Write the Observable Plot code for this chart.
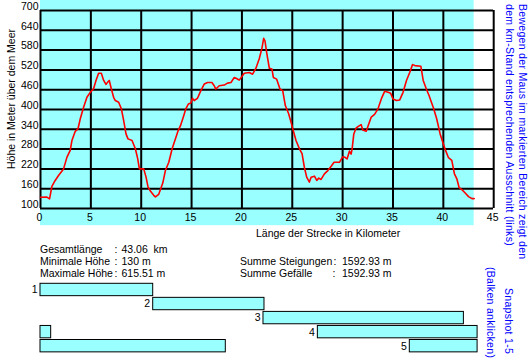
<!DOCTYPE html>
<html>
<head>
<meta charset="utf-8">
<script src="https://cdn.jsdelivr.net/npm/d3@7"></script>
<script src="https://cdn.jsdelivr.net/npm/@observablehq/plot@0.6"></script>
<style>
  html, body { margin: 0; padding: 0; background: #fff; overflow: hidden; }
  #wrap { position: relative; width: 530px; height: 358px; font-family: "Liberation Sans", Arial, sans-serif; font-size: 10.5px; color: #000; }
  #wrap svg { position: absolute; left: 0; }
  .t { position: absolute; white-space: pre; line-height: 13px; font-size: 10.5px; }
  .blue { color: #0000ff; writing-mode: vertical-rl; letter-spacing: 0.3px; }
</style>
</head>
<body>
<div id="wrap"></div>
<script>
// ---- data ----
const km = [0, 0.6, 0.9, 1.13, 1.46, 1.79, 2.29, 2.62, 2.95, 3.12, 3.45, 3.72, 3.95, 4.28, 4.61, 4.94, 5.27, 5.51, 5.77, 6.04,
  6.27, 6.5, 6.67, 6.83, 7.03, 7.26, 7.43, 7.76, 8.03, 8.26, 8.49, 8.69, 9.09, 9.42, 9.65, 9.82, 10.25, 10.48, 10.68, 10.91,
  11.24, 11.41, 11.74, 12.14, 12.4, 12.74, 13.07, 13.4, 13.67, 13.9, 14.23, 14.43, 14.69, 14.93, 15.09, 15.26, 15.59, 15.92, 16.26, 16.59,
  17.02, 17.25, 17.41, 17.75, 18.24, 18.57, 18.91, 19.24, 19.47, 19.73, 20.0, 20.23, 20.73, 21.06, 21.39, 21.72, 21.99, 22.16, 22.29, 22.45,
  22.72, 22.98, 23.12, 23.45, 23.78, 24.05, 24.31, 24.64, 24.88, 25.1, 25.37, 25.71, 25.97, 26.2, 26.43, 26.7, 26.87, 27.2, 27.43, 27.63,
  27.86, 28.19, 28.53, 28.86, 29.15, 29.68, 30.02, 30.24, 30.44, 30.68, 30.84, 30.94, 31.11, 31.34, 31.67, 31.84, 32.0, 32.34, 32.5, 32.84,
  33.17, 33.51, 33.84, 34.17, 34.51, 34.77, 35.0, 35.34, 35.67, 36.0, 36.34, 36.67, 36.94, 37.18, 37.77, 38.0, 38.34, 38.57, 39.01, 39.34,
  39.68, 40.01, 40.17, 40.51, 40.84, 41.1, 41.34, 41.57, 41.84, 42.17, 42.5, 42.84, 43.06];
const elev = [134, 135, 129, 167, 185, 200, 220, 255, 276, 306, 334, 341, 372, 407, 437, 452, 463, 488, 510, 510,
  488, 476, 483, 488, 463, 437, 427, 422, 402, 366, 326, 311, 306, 281, 251, 220, 220, 195, 165, 153,
  140, 135, 143, 177, 215, 240, 281, 311, 336, 351, 382, 402, 417, 420, 434, 427, 434, 457, 477, 482,
  482, 472, 462, 472, 474, 480, 482, 497, 494, 489, 500, 510, 512, 507, 525, 554, 586, 615.5, 608, 574,
  525, 523, 497, 492, 462, 457, 412, 387, 361, 336, 306, 281, 266, 225, 195, 180, 195, 198, 185, 192,
  188, 205, 215, 228, 240, 240, 257, 255, 250, 274, 265, 280, 326, 344, 351, 354, 338, 334, 348, 377,
  385, 402, 432, 455, 452, 449, 432, 427, 429, 452, 488, 513, 536, 533, 531, 488, 460, 443, 405, 372,
  326, 295, 280, 254, 246, 205, 190, 163, 157, 147, 136, 130, 130];

const xTicks = [0, 5, 10, 15, 20, 25, 30, 35, 40, 45];
const yTicks = [100, 160, 220, 280, 340, 400, 460, 520, 580, 640, 700];
const totalLength = 43.06;

const snapLabels = ["1", "2", "3", "4", "5"];
const snapStart = [0, 11.19, 22.14, 27.54, 36.67];
const snapEnd = [11.19, 22.24, 42.04, 43.4, 43.4];
const snapWrapEnd = [0, 0, 0, 1.06, 18.4];

const statsLeftLabels = ["Gesamtlänge", "Minimale Höhe", "Maximale Höhe"];
const statsLeftValues = ["43.06  km", "130 m", "615.51 m"];
const statsRightLabels = ["Summe Steigungen", "Summe Gefälle"];
const statsRightValues = ["1592.93 m", "1592.93 m"];

// ---- build ----
const profile = km.map((k, i) => ({km: k, elev: elev[i]}));
const snaps = snapLabels.map((l, i) => ({label: l, row: i, start: snapStart[i], end: snapEnd[i], wrapEnd: snapWrapEnd[i]}));
const wraps = snaps.filter(d => d.wrapEnd > 0);
const CYAN = "#99ffff";
const FONT = '"Liberation Sans", Arial, sans-serif';
const xRange = [40, 493.2];

const wrap = document.getElementById("wrap");

const chart = Plot.plot({
  width: 530, height: 240,
  marginLeft: 40, marginRight: 37, marginTop: 10, marginBottom: 32,
  x: {domain: [0, 45], range: xRange, axis: null},
  y: {domain: [100, 700], range: [208, 10], axis: null},
  style: {background: "transparent", fontFamily: FONT, fontSize: "10.5px", color: "#000", overflow: "visible"},
  marks: [
    Plot.rect([totalLength], {x1: 0, x2: d => d, y1: 48, y2: 732, fill: CYAN}),
    Plot.gridX(xTicks, {stroke: "#000", strokeOpacity: 1, strokeWidth: 2}),
    Plot.gridY(yTicks, {stroke: "#000", strokeOpacity: 1, strokeWidth: 2}),
    Plot.line(profile, {x: "km", y: "elev", stroke: "#ff0000", strokeWidth: 1.6}),
    Plot.axisX(xTicks, {tickSize: 0, tickPadding: 5, dx: -1, fontSize: 10.5, label: null}),
    Plot.axisY(yTicks, {tickSize: 0, tickPadding: 2, dy: -4, fontSize: 10.5, label: null})
  ]
});
chart.style.top = "0px";
wrap.appendChild(chart);

const bars = Plot.plot({
  width: 530, height: 78,
  x: {domain: [0, 45], range: xRange, axis: null},
  y: {domain: [0, 5], range: [3.3, 73.55], axis: null},
  style: {background: "transparent", fontFamily: FONT, fontSize: "10.5px", color: "#000", overflow: "visible"},
  marks: [
    Plot.rect(snaps, {x1: "start", x2: "end", y1: "row", y2: d => d.row + 0.88, fill: CYAN, stroke: "#000", strokeWidth: 1}),
    Plot.rect(wraps, {x1: 0, x2: "wrapEnd", y1: "row", y2: d => d.row + 0.88, fill: CYAN, stroke: "#000", strokeWidth: 1}),
    Plot.text(snaps, {x: "start", y: d => d.row + 0.44, text: "label", textAnchor: "end", dx: -3, fontSize: 10.5, fill: "#000"})
  ]
});
bars.style.top = "280px";
wrap.appendChild(bars);

function addText(txt, left, top, cls = "t", extra = {}) {
  const d = document.createElement("div");
  d.className = cls;
  d.textContent = txt;
  d.style.left = left + "px";
  d.style.top = top + "px";
  Object.assign(d.style, extra);
  wrap.appendChild(d);
  return d;
}

// axis titles
addText("Länge der Strecke in Kilometer", 256, 227.2);
addText("Höhe in Meter über dem Meer", 11, 98.5, "t", {transform: "translate(-50%, -50%) rotate(-90deg)"});

// stats
const rowTop = [242.5, 254.9, 266.6];
statsLeftLabels.forEach((lab, i) => {
  addText(lab, 40, rowTop[i]);
  addText(":", 114.5, rowTop[i]);
  addText(statsLeftValues[i], 121.5, rowTop[i]);
});
statsRightLabels.forEach((lab, i) => {
  addText(lab, 240, rowTop[i + 1]);
  addText(":", 333.5 - i, rowTop[i + 1]);
  addText(statsRightValues[i], 342, rowTop[i + 1]);
});

// right-side blue notes
const n1 = document.createElement("div");
n1.className = "t blue";
n1.style.cssText += "right:1px; top:4px; line-height:13.5px;";
n1.innerHTML = "Bewegen der Maus im markierten Bereich zeigt den<br>dem km-Stand entsprechenden Ausschnitt (links)";
wrap.appendChild(n1);

const n2 = addText("Snapshot 1-5", 502, 288, "t blue");
const n3 = addText("(Balken anklicken)", 484, 267, "t blue");
</script>
</body>
</html>
